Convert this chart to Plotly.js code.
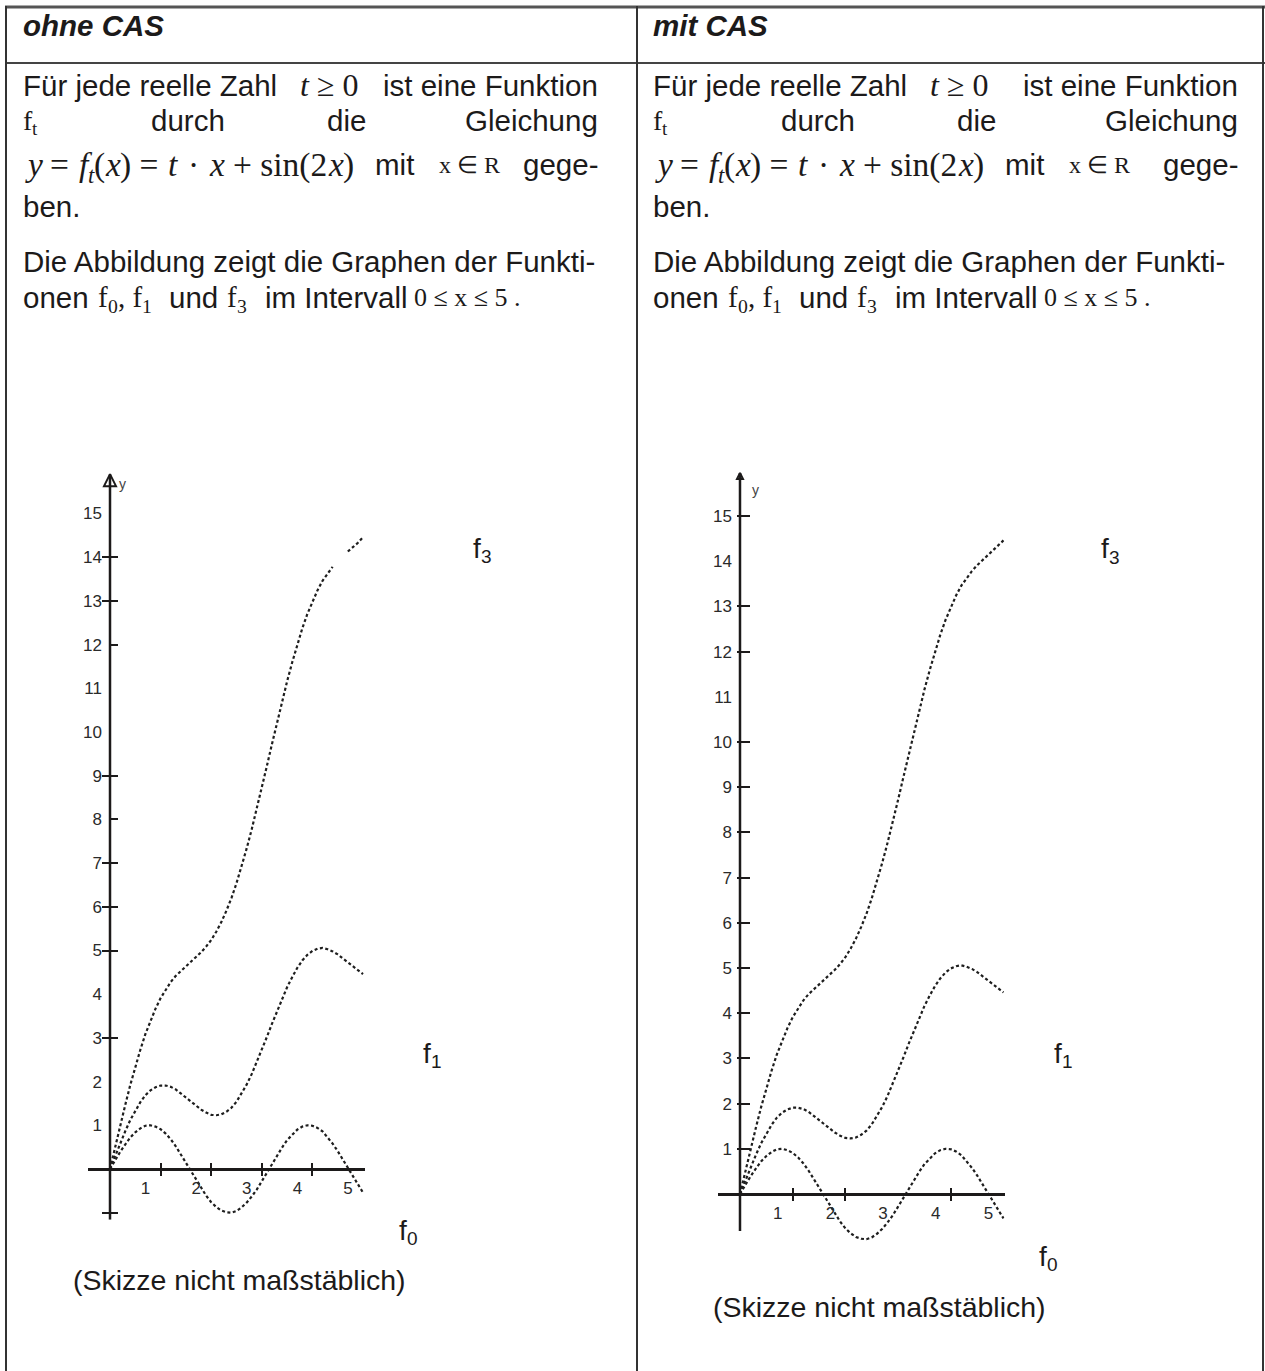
<!DOCTYPE html>
<html><head><meta charset="utf-8">
<script src="https://cdn.plot.ly/plotly-3.0.1.min.js"></script>
<style>html,body{margin:0;padding:0;background:#fff;}#chart{width:1265px;height:1371px;}</style>
</head><body><div id="chart"></div>
<script>
// ---------- data ----------
const xValues = [0,0.1,0.2,0.3,0.4,0.5,0.6,0.7,0.8,0.9,1.0,1.1,1.2,1.3,1.4,1.5,1.6,1.7,1.8,1.9,2.0,2.1,2.2,2.3,2.4,2.5,2.6,2.7,2.8,2.9,3.0,3.1,3.2,3.3,3.4,3.5,3.6,3.7,3.8,3.9,4.0,4.1,4.2,4.3,4.4,4.5,4.6,4.7,4.8,4.9,5.0];
const f0 = [0,0.2,0.39,0.56,0.72,0.84,0.93,0.99,1.0,0.97,0.91,0.81,0.68,0.52,0.33,0.14,-0.06,-0.26,-0.44,-0.61,-0.76,-0.87,-0.95,-0.99,-1.0,-0.96,-0.88,-0.77,-0.63,-0.47,-0.28,-0.08,0.12,0.31,0.49,0.66,0.79,0.9,0.97,1.0,0.99,0.94,0.86,0.73,0.58,0.41,0.22,0.03,-0.17,-0.37,-0.54];
const f1 = [0,0.3,0.59,0.86,1.12,1.34,1.53,1.69,1.8,1.87,1.91,1.91,1.88,1.82,1.73,1.64,1.54,1.44,1.36,1.29,1.24,1.23,1.25,1.31,1.4,1.54,1.72,1.93,2.17,2.44,2.72,3.02,3.32,3.61,3.89,4.16,4.39,4.6,4.77,4.9,4.99,5.04,5.06,5.03,4.98,4.91,4.82,4.73,4.63,4.53,4.46];
const f3 = [0,0.5,0.99,1.46,1.92,2.34,2.73,3.09,3.4,3.67,3.91,4.11,4.28,4.42,4.53,4.64,4.74,4.84,4.96,5.09,5.24,5.43,5.65,5.91,6.2,6.54,6.92,7.33,7.77,8.23,8.72,9.22,9.72,10.21,10.69,11.16,11.59,12.0,12.37,12.7,12.99,13.24,13.46,13.63,13.78,13.91,14.02,14.13,14.23,14.33,14.46];
// left sketch: f3 has a small gap near x = 4.5
const f3OhneCas = [0,0.5,0.99,1.46,1.92,2.34,2.73,3.09,3.4,3.67,3.91,4.11,4.28,4.42,4.53,4.64,4.74,4.84,4.96,5.09,5.24,5.43,5.65,5.91,6.2,6.54,6.92,7.33,7.77,8.23,8.72,9.22,9.72,10.21,10.69,11.16,11.59,12.0,12.37,12.7,12.99,13.24,13.46,13.63,13.78,null,null,14.13,14.23,14.33,14.46];
const curveSubscripts = ['0','1','3'];
const xTickValues = [1,2,3,4,5];
const xTickLabels = ['1','2','3','4','5'];
const yTickValues = [1,2,3,4,5,6,7,8,9,10,11,12,13,14,15];
const yTickLabels = ['1','2','3','4','5','6','7','8','9','10','11','12','13','14','15'];
const xMarksOhne = [1,2,3,4];
const yMarksOhneOut = [-1,3,5,6,7,9,13,14];
const yMarksOhneIn = [-1,3,5,6,7,8,9,12,13,14];
const xMarksMit = [1,2,4];
const yMarksMit = [1,2,3,4,5,6,7,8,9,10,12,13,15];
const headers = ['ohne CAS','mit CAS'];
const noteText = '(Skizze nicht maßstäblich)';

// ---------- geometry ----------
const W = 1265, H = 1371;
const PX = x => x / W, PY = y => 1 - y / H;
const SANS = '"Liberation Sans", Arial, sans-serif';
const SERIF = '"Liberation Serif", "Times New Roman", serif';
const INK = '#1c1a1a';
const charts = {
  ohne: {ox:110, oy:1169, ux:50.6, uy:43.7, xr:[-0.43,5.04], yr:[-1.16,15.9], lineFrom:-1.16},
  mit:  {ox:740, oy:1194, ux:52.7, uy:45.2, xr:[-0.42,5.02], yr:[-1.08,15.95], lineFrom:-0.82}
};
function dom(c){
  return {
    x:[PX(c.ox + c.xr[0]*c.ux), PX(c.ox + c.xr[1]*c.ux)],
    y:[PY(c.oy - c.yr[0]*c.uy), PY(c.oy - c.yr[1]*c.uy)],
    px: PX(c.ox), py: PY(c.oy)
  };
}
const dL = dom(charts.ohne), dR = dom(charts.mit);

const lineStyle = {color:'#1e1e1e', width:2.2, dash:'3px,2.5px'};
const traces = [];
function curves(ys, xa, ya){
  ys.forEach(y=>traces.push({x:xValues, y:y, xaxis:xa, yaxis:ya, mode:'lines', line:lineStyle, hoverinfo:'skip', showlegend:false}));
}
curves([f0,f1,f3OhneCas],'x','y');
curves([f0,f1,f3],'x2','y2');
// invisible helpers so that the tick-mark overlay axes are drawn
[['x3','y3'],['x5','y5'],['x4','y4'],['x6','y6']].forEach(p=>traces.push({x:xValues, y:f0, xaxis:p[0], yaxis:p[1], mode:'lines', opacity:0, line:{width:0}, hoverinfo:'skip', showlegend:false}));
// arrow heads at the top of the y axes
traces.push({x:[0], y:[charts.ohne.yr[1]], xaxis:'x', yaxis:'y', mode:'markers', cliponaxis:false, hoverinfo:'skip', showlegend:false,
  marker:{symbol:'arrow-up-open', size:12, color:INK, line:{color:INK, width:2}}});
traces.push({x:[0], y:[charts.mit.yr[1]], xaxis:'x2', yaxis:'y2', mode:'markers', cliponaxis:false, hoverinfo:'skip', showlegend:false,
  marker:{symbol:'arrow-up-open', size:6, color:INK, line:{color:INK, width:2}}});

const tickFont = {family:SANS, size:17, color:'#2a2a2a'};
function baseX(d, c){
  return {domain:d.x, range:c.xr, anchor:'free', position:d.py, showgrid:false, zeroline:false,
    showline:true, linecolor:INK, linewidth:2.5, ticks:'', tickmode:'array', tickvals:xTickValues, ticktext:xTickLabels,
    tickfont:tickFont, ticklabelshift:-15, ticklabelstandoff:3, fixedrange:true};
}
function baseY(d, c){
  return {domain:d.y, range:c.yr, anchor:'free', position:d.px, showgrid:false, zeroline:false,
    showline:false, ticks:'', tickmode:'array', tickvals:yTickValues, ticktext:yTickLabels,
    tickfont:tickFont, ticklabelstandoff:8, fixedrange:true};
}
function markAxis(over, d, c, letter, vals, side, len){
  return {overlaying:over, range: letter==='x'?c.xr:c.yr, anchor:'free', position: letter==='x'?d.py:d.px,
    showgrid:false, zeroline:false, showline:false, showticklabels:false, tickmode:'array', tickvals:vals,
    ticks:side, ticklen:len, tickwidth:2, tickcolor:INK, fixedrange:true};
}

const layout = {
  width:W, height:H, margin:{l:0,r:0,t:0,b:0}, paper_bgcolor:'#fff', plot_bgcolor:'rgba(0,0,0,0)', showlegend:false,
  xaxis: baseX(dL, charts.ohne), yaxis: baseY(dL, charts.ohne),
  xaxis2: baseX(dR, charts.mit), yaxis2: baseY(dR, charts.mit),
  xaxis3: markAxis('x', dL, charts.ohne, 'x', xMarksOhne, 'outside', 6),
  yaxis3: markAxis('y', dL, charts.ohne, 'y', yMarksOhneOut, 'outside', 8),
  xaxis5: markAxis('x', dL, charts.ohne, 'x', xMarksOhne, 'inside', 6),
  yaxis5: markAxis('y', dL, charts.ohne, 'y', yMarksOhneIn, 'inside', 7),
  xaxis4: markAxis('x2', dR, charts.mit, 'x', xMarksMit, 'outside', 6),
  yaxis4: markAxis('y2', dR, charts.mit, 'y', yMarksMit, 'outside', 3),
  xaxis6: markAxis('x2', dR, charts.mit, 'x', xMarksMit, 'inside', 6),
  yaxis6: markAxis('y2', dR, charts.mit, 'y', yMarksMit, 'inside', 9),
  shapes: [], annotations: []
};
// y axis lines (drawn over the part of the range the sketch shows)
[['x','y',charts.ohne],['x2','y2',charts.mit]].forEach(a=>layout.shapes.push({type:'line', xref:a[0], yref:a[1], x0:0, x1:0, y0:a[2].lineFrom, y1:a[2].yr[1], line:{color:INK, width:2.5}}));
// table rules
const rule = (x0,y0,x1,y1,w,c)=>layout.shapes.push({type:'line', xref:'paper', yref:'paper', x0:PX(x0), y0:PY(y0), x1:PX(x1), y1:PY(y1), line:{color:c||'#333', width:w}});
rule(5,7,1265,7,3,'#555');
rule(5,63,1265,63,2,'#444');
rule(6,6,6,1371,2,'#333');
rule(637,6,637,1371,2,'#333');
rule(1263,6,1263,1371,2,'#333');

// ---------- text helpers ----------
function T(text, x, y, size, family, anchor, extraFont){
  layout.annotations.push({text:text, x:PX(x), y:PY(y), xref:'paper', yref:'paper', xanchor:anchor||'left', yanchor:'middle',
    showarrow:false, borderpad:0, borderwidth:0, font:Object.assign({size:size, family:family, color:INK}, extraFont||{})});
}
const ctx = document.createElement('canvas').getContext('2d');
function measure(t, size, family, italic){ ctx.font = (italic?'italic ':'') + size + 'px ' + family; return ctx.measureText(t).width; }
// a run of pieces: italic pieces and subscripts become separate plain texts laid side by side
function run(pieces, x, y, size, family, gap){
  let cx = x;
  pieces.forEach(p=>{
    const s = p.sub ? size*0.68 : size;
    const core = p.t.trim();
    const sp = measure(' ', s, family, false) + (gap||0);
    cx += (p.t.length - p.t.trimStart().length) * sp;
    if(core){
      T(core, cx, y + (p.sub ? size*0.3 : 0), s, family, 'left', p.i ? {style:'italic'} : {});
      cx += measure(core, s, family, !!p.i);
    }
    cx += (p.t.length - p.t.trimEnd().length) * sp;
  });
}
const BODY = 29.5;
[[0,0],[630,640]].forEach((off,k)=>{
  const a = off[0], b = off[1];
  T(headers[k], 23+a, 26, BODY, SANS, 'left', {weight:'bold', style:'italic'});
  T('Für jede reelle Zahl', 23+a, 85, BODY, SANS);
  run([{t:'t',i:1},{t:' ≥ 0'}], 300+a, 85, 32, SERIF);
  T('ist eine Funktion', 598+b, 85, BODY, SANS, 'right');
  run([{t:'f'},{t:'t',sub:1}], 23+a, 120, 28, SERIF);
  T('durch', 151+a, 120, BODY, SANS);
  T('die', 327+a, 120, BODY, SANS);
  T('Gleichung', 598+b, 120, BODY, SANS, 'right');
  run([{t:'y',i:1},{t:' = '},{t:'f',i:1},{t:'t',i:1,sub:1},{t:'('},{t:'x',i:1},{t:') = '},{t:'t',i:1},{t:' · '},{t:'x',i:1},{t:' + sin(2'},{t:'x',i:1},{t:')'}], 25+a, 165, 33.5, SERIF, 1.5);
  T('mit', 375+a, 165, BODY, SANS);
  T('x ∈ R', 439+a, 165, 24, SERIF);
  T('gege-', 598+b, 165, BODY, SANS, 'right');
  T('ben.', 23+a, 207, BODY, SANS);
  T('Die Abbildung zeigt die Graphen der Funkti-', 23+a, 262, BODY, SANS);
  T('onen', 23+a, 297, BODY, SANS);
  run([{t:'f'},{t:'0',sub:1},{t:', f'},{t:'1',sub:1}], 98+a, 297, 29, SERIF);
  T('und', 169+a, 297, BODY, SANS);
  run([{t:'f'},{t:'3',sub:1}], 227+a, 297, 29, SERIF);
  T('im Intervall', 265+a, 297, BODY, SANS);
  T('0 ≤ x ≤ 5 .', 414+a, 297, 26, SERIF);
});
// curve labels
const LBL = 28;
const lbl = (k, x, y) => run([{t:'f'},{t:curveSubscripts[k],sub:1}], x, y, LBL, SANS);
lbl(2, 473, 548); lbl(1, 423, 1053); lbl(0, 399, 1230);
lbl(2, 1101, 549); lbl(1, 1054, 1053); lbl(0, 1039, 1256);
// axis name y
T('y', 119, 484, 14, SANS, 'left', {color:'#444'});
T('y', 752, 490, 14, SANS, 'left', {color:'#444'});
// notes
T(noteText, 240, 1280, 28.5, SANS, 'center');
T(noteText, 879, 1307, 28.5, SANS, 'center');

Plotly.newPlot('chart', traces, layout, {staticPlot:true, displayModeBar:false});
</script></body></html>
